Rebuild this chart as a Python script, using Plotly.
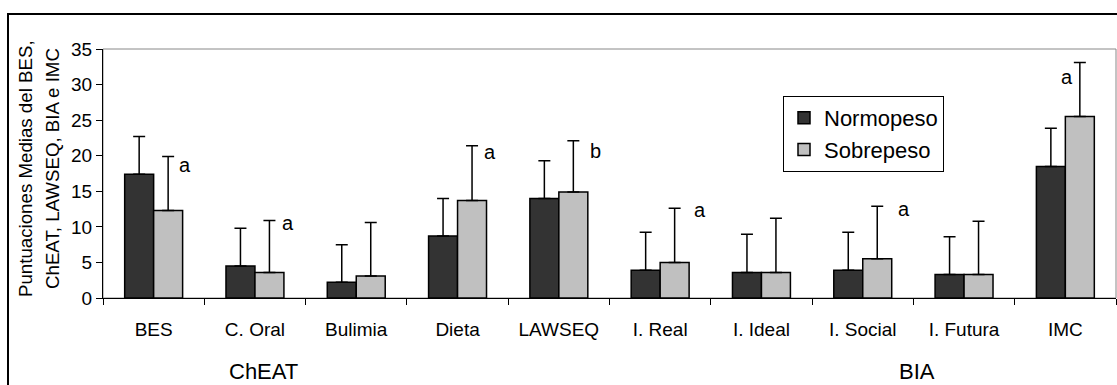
import plotly.graph_objects as go

# ---- data ----
categories = ["BES", "C. Oral", "Bulimia", "Dieta", "LAWSEQ",
              "I. Real", "I. Ideal", "I. Social", "I. Futura", "IMC"]
normopeso = [17.4, 4.5, 2.2, 8.7, 14.0, 3.9, 3.6, 3.9, 3.3, 18.5]
normopeso_err = [5.3, 5.3, 5.3, 5.3, 5.3, 5.35, 5.35, 5.35, 5.3, 5.35]
sobrepeso = [12.3, 3.6, 3.1, 13.7, 14.9, 5.0, 3.6, 5.5, 3.3, 25.5]
sobrepeso_err = [7.6, 7.3, 7.5, 7.7, 7.2, 7.6, 7.6, 7.4, 7.5, 7.6]

sig_text = ["a", "a", "", "a", "b", "a", "", "a", "", "a"]
sig_y = [18.65, 10.5, None, 20.57, 20.6, 12.44, None, 12.51, None, 31.07]
sig_xshift = [31, 33, 0, 32, 37, 40, 0, 41, 0, 2]

group_labels = ["ChEAT", "BIA"]
y_title_lines = ["Puntuaciones Medias del BES,", "ChEAT, LAWSEQ, BIA e IMC"]

FONT = "Liberation Sans, Arial, sans-serif"
W, H = 1117, 385
ML, MR, MT, MB = 103, 1, 49, 87
PW = W - ML - MR
PH = H - MT - MB


def px_x(p):
    return (p - ML) / PW


def px_y(p):
    return (H - MB - p) / PH


fig = go.Figure()
fig.add_trace(go.Bar(
    name="Normopeso", x=categories, y=normopeso,
    marker=dict(color="#333333", line=dict(color="black", width=1.5)),
    error_y=dict(type="data", array=normopeso_err, symmetric=False,
                 arrayminus=[0] * len(normopeso_err),
                 color="black", thickness=1.5, width=6),
))
fig.add_trace(go.Bar(
    name="Sobrepeso", x=categories, y=sobrepeso,
    marker=dict(color="#C0C0C0", line=dict(color="black", width=1.5)),
    error_y=dict(type="data", array=sobrepeso_err, symmetric=False,
                 arrayminus=[0] * len(sobrepeso_err),
                 color="black", thickness=1.5, width=6),
))

annotations = []
for cat, t, yv, xs in zip(categories, sig_text, sig_y, sig_xshift):
    if t:
        annotations.append(dict(x=cat, y=yv, xref="x", yref="y", text=t,
                                showarrow=False, xshift=xs,
                                xanchor="center", yanchor="middle",
                                font=dict(family=FONT, size=20, color="black")))

for label, cx in zip(group_labels, [263, 917]):
    annotations.append(dict(x=px_x(cx), y=px_y(371), xref="paper", yref="paper",
                            text=label, showarrow=False,
                            xanchor="center", yanchor="middle",
                            font=dict(family=FONT, size=22, color="black")))

for line, cx in zip(y_title_lines, [25, 52]):
    annotations.append(dict(x=px_x(cx), y=px_y(169), xref="paper", yref="paper",
                            text=line, showarrow=False, textangle=-90,
                            xanchor="center", yanchor="middle",
                            font=dict(family=FONT, size=18.7, color="black")))

shapes = [
    # plot area border (grey)
    dict(type="rect", xref="paper", yref="paper", x0=0, x1=1, y0=0, y1=1,
         line=dict(color="#888888", width=1), layer="below"),
    # outer chart frame
    dict(type="rect", xref="paper", yref="paper",
         x0=px_x(8), x1=px_x(1140), y0=px_y(14), y1=px_y(420),
         line=dict(color="black", width=2), layer="above"),
]

fig.update_layout(
    width=W, height=H,
    margin=dict(l=ML, r=MR, t=MT, b=MB),
    paper_bgcolor="white", plot_bgcolor="white",
    barmode="group", bargap=0.428, bargroupgap=0,
    font=dict(family=FONT, color="black"),
    showlegend=True,
    legend=dict(x=px_x(783), y=px_y(96), xanchor="left", yanchor="top",
                bgcolor="white", bordercolor="black", borderwidth=1,
                font=dict(family=FONT, size=22, color="black"),
                tracegroupgap=0, itemwidth=30),
    xaxis=dict(type="category", showgrid=False, zeroline=False,
               showline=True, linecolor="black", linewidth=1,
               ticks="outside", tickson="boundaries", ticklen=6,
               tickcolor="black", tickwidth=1,
               tickfont=dict(family=FONT, size=19, color="black"),
               ticklabelstandoff=14),
    yaxis=dict(range=[0, 35], dtick=5, tick0=0, showgrid=False, zeroline=False,
               showline=True, linecolor="black", linewidth=1,
               ticks="outside", ticklen=6, tickcolor="black", tickwidth=1,
               tickfont=dict(family=FONT, size=19, color="black")),
    annotations=annotations,
    shapes=shapes,
)

fig.write_html(
    "out.html",
    config={"displayModeBar": False},
    post_script="document.body.style.margin='0px';document.body.style.overflow='hidden';",
)
